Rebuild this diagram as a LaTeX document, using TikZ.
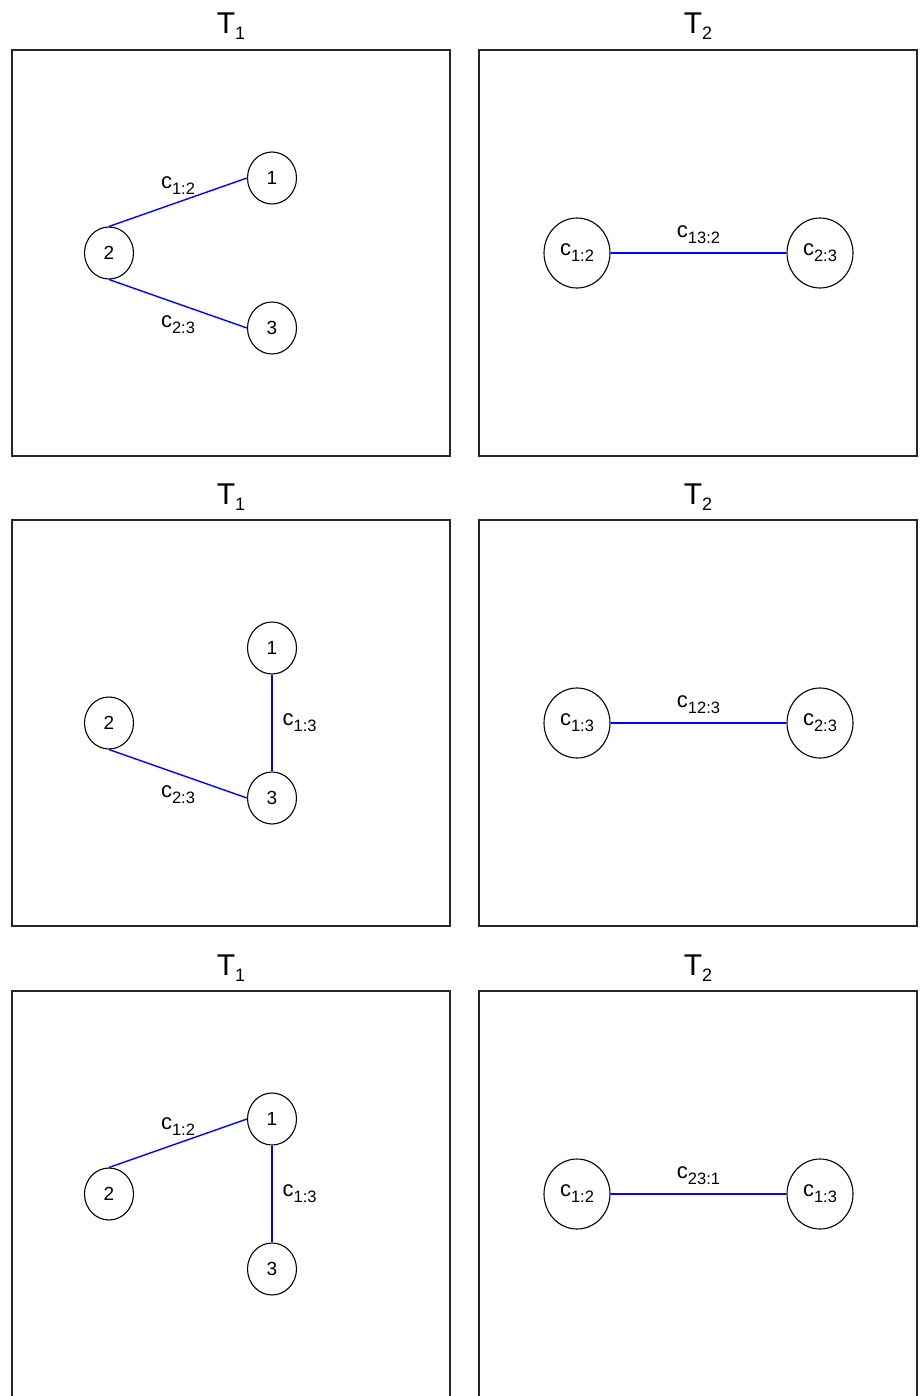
\documentclass[tikz,border=0pt]{standalone}
\usepackage{fontspec}
\setmainfont{Liberation Sans}
\usetikzlibrary{shapes.geometric}

% c with a lowered index, and the panel titles
\newcommand{\csub}[1]{c\raisebox{-6pt}{\fontsize{16.5}{17}\selectfont #1}}
\newcommand{\tsub}[1]{T\raisebox{-6pt}{\fontsize{18}{19}\selectfont #1}}

\tikzset{
  vert/.style={draw, ellipse, line width=1.1pt, minimum width=49pt, minimum height=52pt,
    inner sep=0pt, font=\fontsize{19}{21}\selectfont},
  cvert/.style={vert, minimum width=66pt, minimum height=70pt, font=\fontsize{22}{24}\selectfont},
  edge/.style={blue, line width=1.4pt},
  elbl/.style={text=black, font=\fontsize{22}{24}\selectfont, inner sep=0pt},
  panel/.style={draw=black!85, line width=1.4pt},
  ttl/.style={font=\fontsize{30}{32}\selectfont, anchor=base, inner sep=0pt}
}

\begin{document}
\begin{tikzpicture}[x=1pt, y=-1pt]
    \useasboundingbox (0,0) rectangle (920,1396);

    % Row 1: T1 with edges 1-2 and 2-3
    \draw[panel] (12,50) rectangle (450,456);
    \draw[panel] (479,50) rectangle (917,456);
    \node[ttl] (ta) at (231,34) {\tsub{1}};
    \node[ttl] (ua) at (698,34) {\tsub{2}};
    \node[vert] (a1) at (272,178) {1};
    \node[vert] (a2) at (109,253) {2};
    \node[vert] (a3) at (272,328) {3};
    \draw[edge] (a2.north) -- node[midway, above=7pt, elbl] {\csub{1:2}} (a1.west);
    \draw[edge] (a2.south) -- node[midway, below=11pt, elbl] {\csub{2:3}} (a3.west);
    \node[cvert] (b1) at (577,253) {\csub{1:2}};
    \node[cvert] (b2) at (820,253) {\csub{2:3}};
    \draw[edge] (b1.east) -- node[midway, above=9pt, elbl] {\csub{13:2}} (b2.west);

    % Row 2: T1 with edges 1-3 and 2-3
    \begin{scope}[yshift=-470pt]
        \draw[panel] (12,50) rectangle (450,456);
        \draw[panel] (479,50) rectangle (917,456);
        \node[ttl] (tb) at (231,34) {\tsub{1}};
        \node[ttl] (ub) at (698,34) {\tsub{2}};
        \node[vert] (c1) at (272,178) {1};
        \node[vert] (c2) at (109,253) {2};
        \node[vert] (c3) at (272,328) {3};
        \draw[edge] (c1.south) -- node[midway, right=10pt, elbl] {\csub{1:3}} (c3.north);
        \draw[edge] (c2.south) -- node[midway, below=11pt, elbl] {\csub{2:3}} (c3.west);
        \node[cvert] (d1) at (577,253) {\csub{1:3}};
        \node[cvert] (d2) at (820,253) {\csub{2:3}};
        \draw[edge] (d1.east) -- node[midway, above=9pt, elbl] {\csub{12:3}} (d2.west);
    \end{scope}

    % Row 3: T1 with edges 1-2 and 1-3
    \begin{scope}[yshift=-941pt]
        \draw[panel] (12,50) rectangle (450,460);
        \draw[panel] (479,50) rectangle (917,460);
        \node[ttl] (tc) at (231,34) {\tsub{1}};
        \node[ttl] (uc) at (698,34) {\tsub{2}};
        \node[vert] (e1) at (272,178) {1};
        \node[vert] (e2) at (109,253) {2};
        \node[vert] (e3) at (272,328) {3};
        \draw[edge] (e2.north) -- node[midway, above=7pt, elbl] {\csub{1:2}} (e1.west);
        \draw[edge] (e1.south) -- node[midway, right=10pt, elbl] {\csub{1:3}} (e3.north);
        \node[cvert] (f1) at (577,253) {\csub{1:2}};
        \node[cvert] (f2) at (820,253) {\csub{1:3}};
        \draw[edge] (f1.east) -- node[midway, above=9pt, elbl] {\csub{23:1}} (f2.west);
    \end{scope}
\end{tikzpicture}
\end{document}
